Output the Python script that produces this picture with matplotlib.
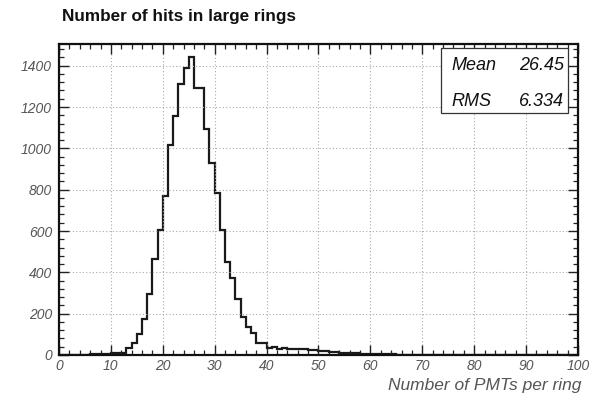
import numpy as np
import matplotlib
matplotlib.use("Agg")
import matplotlib.pyplot as plt
from matplotlib.ticker import MultipleLocator

# Histogram of PMT hits per ring: unit-width bins on [0, 100)
bin_edges = np.arange(0, 101, 1)
counts = [
    0, 1, 0, 2, 1, 2, 3, 4, 5, 7,            # 0-9
    10, 12, 12, 32, 60, 102, 173, 297, 464, 604,   # 10-19
    767, 1015, 1158, 1311, 1389, 1441, 1292, 1290, 1095, 930,  # 20-29
    785, 604, 450, 373, 270, 183, 134, 104, 60, 57,  # 30-39
    36, 37, 30, 33, 29, 30, 28, 27, 22, 23,   # 40-49
    19, 18, 15, 14, 11, 11, 10, 9, 7, 7,      # 50-59
    5, 5, 4, 3, 3, 2, 2, 1, 1, 1,             # 60-69
] + [0] * 30                                  # 70-99

title_text = "Number of hits in large rings"
xlabel_text = "Number of PMTs per ring"
stat_rows = [("Mean", "26.45"), ("RMS", "6.334")]

plt.rcParams["font.family"] = ["Liberation Sans", "DejaVu Sans"]

fig = plt.figure(figsize=(5.94, 3.95), dpi=100)
ax = fig.add_axes([0.0993, 0.1013, 0.8737, 0.7873])

ax.stairs(counts, bin_edges, color="#1a1a1a", linewidth=1.6)

ax.set_xlim(0, 100)
ax.set_ylim(0, 1505)

ax.xaxis.set_major_locator(MultipleLocator(10))
ax.xaxis.set_minor_locator(MultipleLocator(2))
ax.yaxis.set_major_locator(MultipleLocator(200))
ax.yaxis.set_minor_locator(MultipleLocator(40))

ax.grid(True, which="major", color="#aaaaaa", linestyle=(0, (1, 2)), linewidth=0.8)

ax.tick_params(which="both", direction="in", top=True, right=True,
               colors="#222222", labelcolor="#555555", labelsize=10)
ax.tick_params(which="major", length=7, width=1.0)
ax.tick_params(which="minor", length=3.5, width=0.9)
ax.tick_params(axis="x", pad=3)
ax.tick_params(axis="y", pad=5)
for lbl in ax.get_xticklabels() + ax.get_yticklabels():
    lbl.set_fontstyle("italic")

for sp in ax.spines.values():
    sp.set_linewidth(1.6)
    sp.set_color("#111111")

ax.set_xlabel(xlabel_text, fontsize=12.5, fontstyle="italic", color="#555555",
              loc="right", labelpad=1)
ax.xaxis.set_label_coords(1.007, -0.075)
ax.xaxis.label.set_ha("right")

fig.text(62 / 594, 1 - 16 / 395, title_text, fontsize=12.3, fontweight="bold",
         ha="left", va="center", color="#111111")

# Statistics box
box_l, box_r = 441 / 594, 568 / 594
box_t, box_b = 1 - 48 / 395, 1 - 113 / 395
rect = plt.Rectangle((box_l, box_b), box_r - box_l, box_t - box_b,
                     transform=fig.transFigure, facecolor="white",
                     edgecolor="#333333", linewidth=0.9, zorder=5)
fig.add_artist(rect)
row_y = [1 - 65 / 395, 1 - 102 / 395]
for (name, val), yy in zip(stat_rows, row_y):
    fig.text(451 / 594, yy, name, fontsize=13, fontstyle="italic",
             ha="left", va="center", color="#111111", zorder=6)
    fig.text(564 / 594, yy, val, fontsize=13, fontstyle="italic",
             ha="right", va="center", color="#111111", zorder=6)

fig.savefig("out.png", dpi=100)
